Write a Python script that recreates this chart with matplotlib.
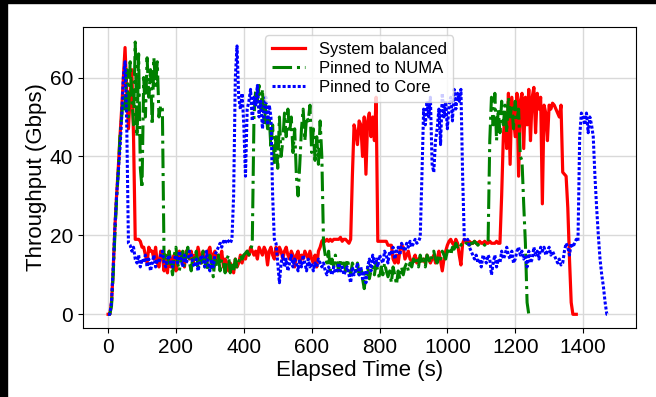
import numpy as np
import matplotlib
matplotlib.use('Agg')
import matplotlib.pyplot as plt
from matplotlib.patches import Rectangle

plt.rcParams['font.family'] = ['Liberation Sans', 'DejaVu Sans']

# throughput samples every 5 s (Gbps)
step = 5
balanced = [
    0, 0, 3, 11, 22, 30, 37, 45, 52, 60, 67.6, 56, 47, 55, 62, 45, 19, 19, 19, 18.5,
    17, 17, 15, 13, 17, 16, 16, 14, 17, 13, 12, 16, 15, 11, 14, 10.5, 16, 12, 14, 15,
    11, 13, 16, 14, 15, 12, 16, 15, 14, 16, 13, 15, 14, 17, 15, 13, 16, 14, 12, 16,
    17, 14, 15, 16, 13, 15, 14, 16, 12, 14, 13, 11, 13, 12, 10.5, 14, 12, 13, 15, 13,
    15, 14, 16, 15, 17, 16, 15, 16, 14, 17, 16, 15, 17, 16, 12.5, 16, 17, 15, 14, 17,
    15, 17, 16, 14, 16, 17, 15, 14, 16, 15, 12, 15, 16, 13, 15, 14, 16, 15, 14, 16,
    14, 13, 15, 12, 16, 17, 18.5, 19, 18.5, 19, 18.5, 19, 18.5, 19, 19, 19, 19, 19.5, 18.5, 19,
    19, 18.5, 18, 19, 35, 48, 46, 43, 49, 48, 40, 50, 35.5, 49, 51, 45, 50, 44, 55, 18.5,
    18.5, 18.5, 18.5, 18.5, 18.5, 17.5, 17.5, 17.5, 14, 13, 15, 13, 16, 17.5, 17, 14, 15, 16, 14, 13.5,
    14, 15, 13, 14, 14.5, 13.5, 14, 13, 15, 14, 13, 14, 15, 13, 14, 16, 13.5, 11, 14, 16,
    17.5, 18.5, 19, 18, 17.5, 19, 18, 15, 12.5, 18, 19, 18.5, 18, 18.5, 18, 18, 18.5, 18, 18, 18.5,
    18, 18, 18.5, 18, 18, 18.5, 18, 18, 18, 18.5, 18, 18, 30, 45, 51, 42, 56, 38, 55, 50,
    45, 56, 35, 54, 56, 42, 55, 48, 57, 44, 55, 57.5, 46, 56, 52, 55, 28, 53, 51, 44,
    53, 52, 53.5, 53, 52, 51, 50, 53, 36, 35.5, 35, 27, 14, 3, 0, 0, 0,
]
numa = [
    0, 0, 2, 10, 20, 29, 36, 45, 50, 55, 52, 62, 50, 64, 55, 48, 69, 45, 66, 37,
    32, 60, 50, 65, 55, 62, 48, 65, 58, 64, 50, 53, 52, 14, 15, 12, 16, 13, 10, 15,
    17, 13, 11, 14, 16, 12, 15, 17, 13, 11, 15, 14, 16, 12, 15, 13, 16, 12, 14, 11,
    15, 13, 9.5, 14, 12, 15, 11, 14, 13, 10.5, 14, 15, 10.5, 13, 11, 14, 12, 13, 15, 14,
    15, 15.5, 16, 15, 16, 18, 50, 57, 54, 58, 52, 57, 48, 53, 47, 50, 42, 48, 38, 45,
    37, 50, 40, 44, 51, 45, 52, 46, 50, 41, 47, 35, 30, 38, 47, 52, 44, 50, 49, 53,
    41, 47, 39, 45, 38, 49, 40, 18, 15, 13, 16, 11, 14, 12, 15, 13, 11, 14, 12, 13,
    11, 14, 12, 10, 13, 12, 11, 13, 10, 12, 9, 6.5, 10, 12, 9, 11, 12, 10, 13, 11,
    9, 12, 10, 13, 11, 9.5, 11, 8, 12, 10, 7.5, 11, 9, 12, 10, 12, 13, 11, 13, 12,
    14, 13, 14, 12, 15, 13, 14, 12, 15, 14, 13, 15, 16, 14, 13, 15, 14, 16, 15, 14,
    16, 17, 15, 17, 16.5, 18, 17, 18, 17.5, 18, 17.5, 18, 18, 17.5, 18, 18, 18.5, 18, 17.5, 18,
    18, 18, 17.5, 18, 18, 44, 55, 48, 56, 44, 52, 46, 54, 48, 53, 46, 55, 50, 53, 47,
    54, 49, 52, 40, 39, 28, 18, 3, 0, 0,
]
core = [
    0, 0, 3, 12, 22, 30, 36, 42, 50, 60, 64, 48, 18, 17.5, 16, 17, 14, 13, 15, 12,
    14, 13, 15, 12, 14, 11, 13, 15, 12, 14, 13, 15, 16, 13, 12, 14, 15, 13, 12, 14,
    15, 13, 16, 14, 12, 15, 13, 14, 16, 15, 13, 12, 14, 11, 13, 15, 14, 12, 16, 13,
    11, 14, 12, 15, 16, 17, 18, 17, 18.5, 18, 19, 18.5, 18, 19, 30, 60, 68, 55, 52, 56,
    48, 35, 52, 54, 57, 49, 55, 53, 58, 50, 54, 47, 52, 55, 48, 53, 50, 30, 19, 18,
    13, 8, 13, 15, 12, 14, 11, 13, 15, 12, 14, 13, 11, 14, 12, 15, 13, 11, 14, 12,
    13, 11, 13, 12, 14, 13, 12, 13, 11, 10, 12, 11, 10, 12, 10.5, 11, 13, 11, 12, 10,
    11, 12, 10, 8, 12, 10, 11, 13, 10, 12, 9, 11, 8, 12, 14, 11, 15, 13, 14, 12,
    15, 14, 13, 16, 15, 13, 16, 15, 17, 14, 16, 17, 15, 18, 17, 16, 18, 17, 18.5, 17,
    18, 19, 18, 18.5, 19.5, 35, 52, 48, 54, 50, 55, 38, 36, 44, 47, 52, 43, 56, 50, 54,
    47, 53, 55, 49, 57, 52, 56, 54, 57, 35, 19, 18.5, 19, 17, 16, 15, 14, 15, 13, 14,
    12, 15, 14, 13, 15, 14, 10, 13, 15, 12, 14, 13, 16, 14, 15, 17, 15, 14, 16, 13,
    14, 16, 17, 15, 16, 14, 15, 12, 16, 13, 14, 17, 15, 16, 14, 17, 16, 17, 15, 16,
    17, 15, 16, 15, 14, 13, 14, 12.5, 13, 16, 18, 17, 15, 18, 17, 18, 19, 18.5, 45, 51,
    50, 48, 51, 46, 50, 48, 45, 35, 27, 20, 14, 10, 7, 3, 0, 0,
]

t_bal = np.arange(len(balanced)) * step
t_numa = np.arange(len(numa)) * step
t_core = np.arange(len(core)) * step

fig = plt.figure(figsize=(6.56, 3.97), dpi=100)
ax = fig.add_axes([0.1265, 0.1738, 0.843, 0.7582])

ax.plot(t_bal, balanced, color='red', lw=2.3, label='System balanced')
ax.plot(t_numa, numa, color='green', lw=2.2, ls='-.', label='Pinned to NUMA')
ax.plot(t_core, core, color='blue', lw=2.2, ls=(0, (1, 0.65)), label='Pinned to Core')

ax.set_xlim(-74, 1556)
ax.set_ylim(-3.47, 72.8)
ax.set_xticks([0, 200, 400, 600, 800, 1000, 1200, 1400])
ax.set_yticks([0, 20, 40, 60])
ax.tick_params(labelsize=15)
ax.grid(True, color='#d9d9d9', lw=1)
ax.set_axisbelow(True)
ax.set_xlabel('Elapsed Time (s)', fontsize=16, labelpad=2)
ax.set_ylabel('Throughput (Gbps)', fontsize=16, labelpad=2)
ax.legend(loc='upper center', fontsize=12, labelspacing=0.25)

# dark border strips in the picture
fig.patches.append(Rectangle((0, 1 - 3 / 397), 1, 3 / 397, transform=fig.transFigure, color='black'))
fig.patches.append(Rectangle((0, 0), 7 / 656, 1, transform=fig.transFigure, color='black'))

fig.savefig('out.png', dpi=100)
